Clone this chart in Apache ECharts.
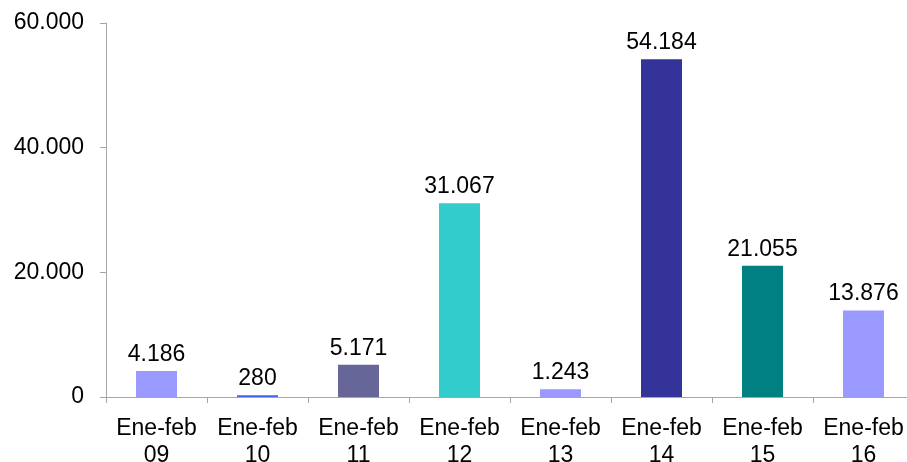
<!DOCTYPE html>
<html>
<head>
<meta charset="utf-8">
<script src="https://cdn.jsdelivr.net/npm/echarts@6/dist/echarts.min.js"></script>
<style>html,body{margin:0;padding:0;background:#fff}#c{width:907px;height:462px}</style>
</head>
<body>
<div id="c"></div>
<script>
var categories = ["Ene-feb\n09","Ene-feb\n10","Ene-feb\n11","Ene-feb\n12","Ene-feb\n13","Ene-feb\n14","Ene-feb\n15","Ene-feb\n16"];
var values = [4186, 280, 5171, 31067, 1243, 54184, 21055, 13876];
var barColors = ["#9999FF","#3F66E8","#666699","#33CCCC","#9999FF","#333399","#008080","#9999FF"];
var yTicks = [0, 20000, 40000, 60000];

function fmt(v){
  return String(v).replace(/\B(?=(\d{3})+(?!\d))/g, ".");
}
var chart = echarts.init(document.getElementById('c'));
chart.setOption({
  animation:false,
  grid:{left:106, width:808, top:23, height:374, containLabel:false, outerBoundsMode:'none'},
  xAxis:{
    type:'category', data:categories,
    axisLine:{lineStyle:{color:'#a6a6a6', width:1}},
    axisTick:{show:true, alignWithLabel:false, length:6, lineStyle:{color:'#a6a6a6'}},
    axisLabel:{color:'#000', fontFamily:'Liberation Sans, Arial', fontSize:23, lineHeight:27, margin:18, interval:0}
  },
  yAxis:{
    type:'value', min:yTicks[0], max:yTicks[yTicks.length-1], interval:20000,
    axisLine:{show:true, lineStyle:{color:'#a6a6a6', width:1}},
    axisTick:{show:true, length:6, lineStyle:{color:'#a6a6a6'}},
    splitLine:{show:false},
    axisLabel:{color:'#000', fontFamily:'Liberation Sans, Arial', fontSize:23, margin:22, formatter:function(v){return fmt(v);}}
  },
  series:[{
    type:'bar', barWidth:41,
    data: values.map(function(v,i){return {value:v, itemStyle:{color:barColors[i]}};}),
    label:{show:true, position:'top', distance:5, color:'#000', fontFamily:'Liberation Sans, Arial', fontSize:23,
      formatter:function(p){return fmt(p.value);}}
  }]
});
</script>
</body>
</html>
